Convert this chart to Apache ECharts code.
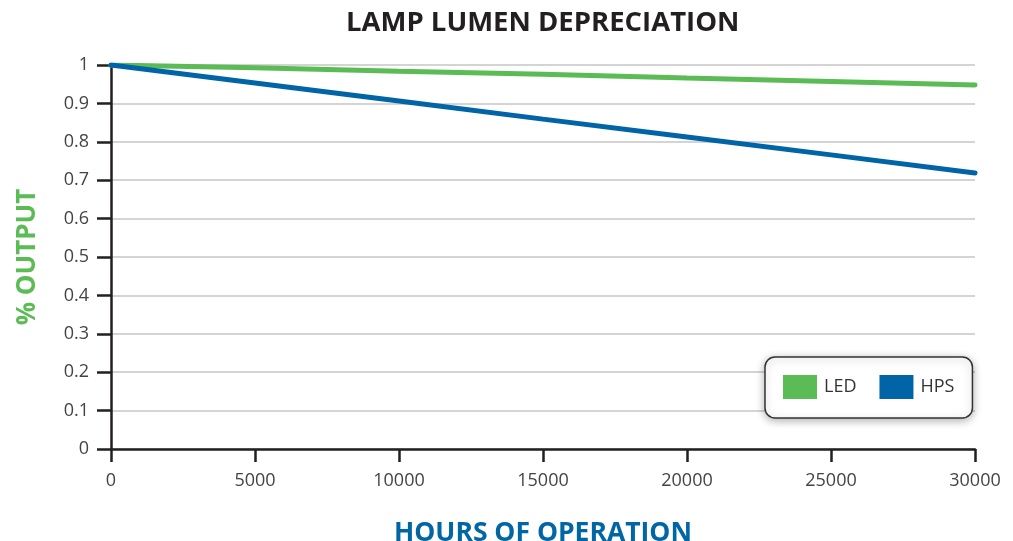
<!DOCTYPE html>
<html>
<head>
<meta charset="utf-8">
<script src="https://cdn.jsdelivr.net/npm/echarts@6/dist/echarts.min.js"></script>
<style>
  html, body { margin: 0; padding: 0; background: #fff; }
  #chart { width: 1013px; height: 541px; }
</style>
</head>
<body>
<div id="chart"></div>
<script>
// hours of operation
const hours = [0, 5000, 10000, 15000, 20000, 25000, 30000]
// relative lumen output
const ledOutput = [1, 0.993, 0.984, 0.976, 0.966, 0.957, 0.948]
const hpsOutput = [1, 0.953, 0.906, 0.859, 0.8125, 0.766, 0.719]

const font = '"Open Sans", "Noto Sans", sans-serif'
const axisColor = '#231f20'

const myChart = echarts.init(document.getElementById('chart'))

const option = {
  backgroundColor: '#fff',
  textStyle: { fontFamily: font },
  title: {
    text: 'LAMP LUMEN DEPRECIATION',
    left: 341,
    top: 4,
    textStyle: { fontFamily: font, fontSize: 27.5, fontWeight: 'bold', color: axisColor }
  },
  legend: {
    left: 765,
    top: 357,
    icon: 'rect',
    itemWidth: 34,
    itemHeight: 24,
    itemGap: 23,
    padding: [18, 18, 19, 18],
    backgroundColor: '#fff',
    borderColor: '#333',
    borderWidth: 1.5,
    borderRadius: 10,
    shadowColor: 'rgba(0,0,0,0.3)',
    shadowBlur: 8,
    shadowOffsetY: 2,
    textStyle: { fontFamily: font, fontSize: 18, color: '#333', padding: [0, 0, 0, 2] },
    data: ['LED', 'HPS']
  },
  grid: {
    left: 111,
    right: 38,
    top: 65,
    bottom: 92,
    outerBoundsMode: 'none',
    containLabel: false
  },
  xAxis: {
    type: 'value',
    min: 0,
    max: 30000,
    interval: 5000,
    name: 'HOURS OF OPERATION',
    nameLocation: 'middle',
    nameGap: 71,
    nameTextStyle: { fontFamily: font, fontSize: 26.5, fontWeight: 'bold', color: '#0066a6' },
    axisLine: { show: true, lineStyle: { color: axisColor, width: 2.5 } },
    axisTick: { show: true, length: 13, lineStyle: { color: axisColor, width: 2.5 } },
    axisLabel: { margin: 23, fontSize: 18, color: '#444', fontFamily: font, formatter: v => String(v) },
    splitLine: { show: false }
  },
  yAxis: {
    type: 'value',
    min: 0,
    max: 1,
    interval: 0.1,
    name: '% OUTPUT',
    nameLocation: 'middle',
    nameGap: 70,
    nameRotate: 90,
    nameTextStyle: { fontFamily: font, fontSize: 26, fontWeight: 'bold', color: '#5bbb55' },
    axisLine: { show: true, lineStyle: { color: axisColor, width: 2.5 } },
    axisTick: { show: true, length: 14, lineStyle: { color: axisColor, width: 2.5 } },
    axisLabel: {
      margin: 22,
      fontSize: 18,
      color: '#444',
      fontFamily: font,
      formatter: v => String(Math.round(v * 10) / 10)
    },
    splitLine: { show: true, lineStyle: { color: '#c6c6c6', width: 1.5 } }
  },
  series: [
    {
      name: 'LED',
      type: 'line',
      data: hours.map((h, i) => [h, ledOutput[i]]),
      symbol: 'none',
      itemStyle: { color: '#5bbb55' },
      lineStyle: { color: '#5bbb55', width: 5, cap: 'round' },
      z: 3
    },
    {
      name: 'HPS',
      type: 'line',
      data: hours.map((h, i) => [h, hpsOutput[i]]),
      symbol: 'none',
      itemStyle: { color: '#0064a6' },
      lineStyle: { color: '#0064a6', width: 5, cap: 'round' },
      z: 4
    }
  ]
}

myChart.setOption(option)
</script>
</body>
</html>
